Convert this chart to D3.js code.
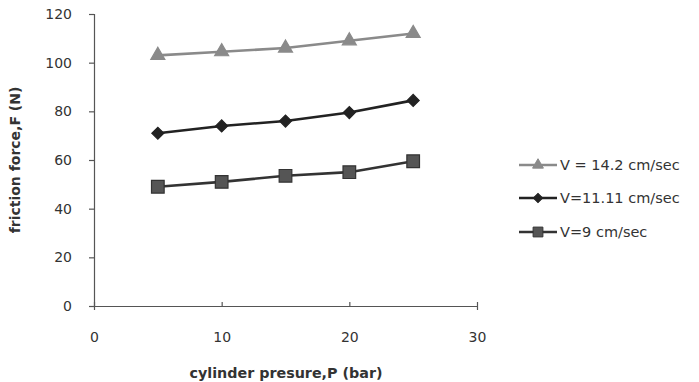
<!DOCTYPE html>
<html><head><meta charset="utf-8">
<script src="https://cdn.jsdelivr.net/npm/d3@7"></script>
<style>body{margin:0;background:#fff;}svg{display:block;}</style>
</head><body>
<svg id="c" width="699" height="382"></svg>
<script>
const pressures = [5, 10, 15, 20, 25];
const seriesNames = ["V = 14.2 cm/sec", "V=11.11 cm/sec", "V=9 cm/sec"];
const v142 = [103, 104.5, 106, 109, 112];
const v1111 = [71, 74, 76, 79.5, 84.5];
const v9 = [49, 51, 53.5, 55, 59.5];
const xTicks = [0, 10, 20, 30];
const yTicks = [0, 20, 40, 60, 80, 100, 120];

const svg = d3.select("#c");
const x = d3.scaleLinear().domain([0, 30]).range([94, 477]);
const y = d3.scaleLinear().domain([0, 120]).range([306, 14]);
const font = "'DejaVu Sans', sans-serif";

const gx = svg.append("g").attr("transform", "translate(0,306)")
  .call(d3.axisBottom(x).tickValues(xTicks).tickSize(4).tickPadding(22));
const gy = svg.append("g").attr("transform", "translate(94,0)")
  .call(d3.axisLeft(y).tickValues(yTicks).tickSize(5).tickPadding(17));
[gx, gy].forEach(g => {
  g.selectAll("path,line").attr("stroke", "#555").attr("stroke-width", 1.2);
  g.selectAll("text").attr("font-family", font).attr("font-size", 14).attr("fill", "#333");
});
gx.selectAll(".tick line").attr("transform", "translate(0,-4)");

svg.append("text").attr("x", 286).attr("y", 378).attr("text-anchor", "middle")
  .attr("font-family", font).attr("font-size", 14.3).attr("font-weight", "bold").attr("fill", "#333")
  .text("cylinder presure,P (bar)");
svg.append("text").attr("transform", "translate(20,160) rotate(-90)").attr("text-anchor", "middle")
  .attr("font-family", font).attr("font-size", 14).attr("font-weight", "bold").attr("fill", "#333")
  .text("friction force,F (N)");

const series = [
  {name: seriesNames[0], vals: v142, color: "#8a8a8a", fill: "#8a8a8a", sym: d3.symbolTriangle, size: 85, rot: 0},
  {name: seriesNames[1], vals: v1111, color: "#222", fill: "#222", sym: d3.symbolSquare, size: 72, rot: 45},
  {name: seriesNames[2], vals: v9, color: "#333", fill: "#555", sym: d3.symbolSquare, size: 160, rot: 0},
];
const line = d3.line().x((d, i) => x(pressures[i])).y(d => y(d));
series.forEach(s => {
  svg.append("path").datum(s.vals).attr("d", line).attr("fill", "none")
    .attr("stroke", s.color).attr("stroke-width", 2.6);
  svg.selectAll(null).data(s.vals).enter().append("path")
    .attr("d", d3.symbol().type(s.sym).size(s.size))
    .attr("transform", (d, i) => `translate(${x(pressures[i])},${y(d)}) rotate(${s.rot})`)
    .attr("fill", s.fill).attr("stroke", s.color).attr("stroke-width", 1.2);
});

const legY = [165, 198, 232];
series.forEach((s, i) => {
  const g = svg.append("g").attr("transform", `translate(0,${legY[i]})`);
  g.append("line").attr("x1", 519).attr("x2", 557).attr("stroke", s.color).attr("stroke-width", 2.6);
  g.append("path").attr("d", d3.symbol().type(s.sym).size(s.size * 0.6))
    .attr("transform", `translate(538,0) rotate(${s.rot})`)
    .attr("fill", s.fill).attr("stroke", s.color);
  g.append("text").attr("x", 560).attr("y", 5).attr("font-family", font).attr("font-size", 14.5)
    .attr("fill", "#333").text(s.name);
});
</script>
</body></html>
